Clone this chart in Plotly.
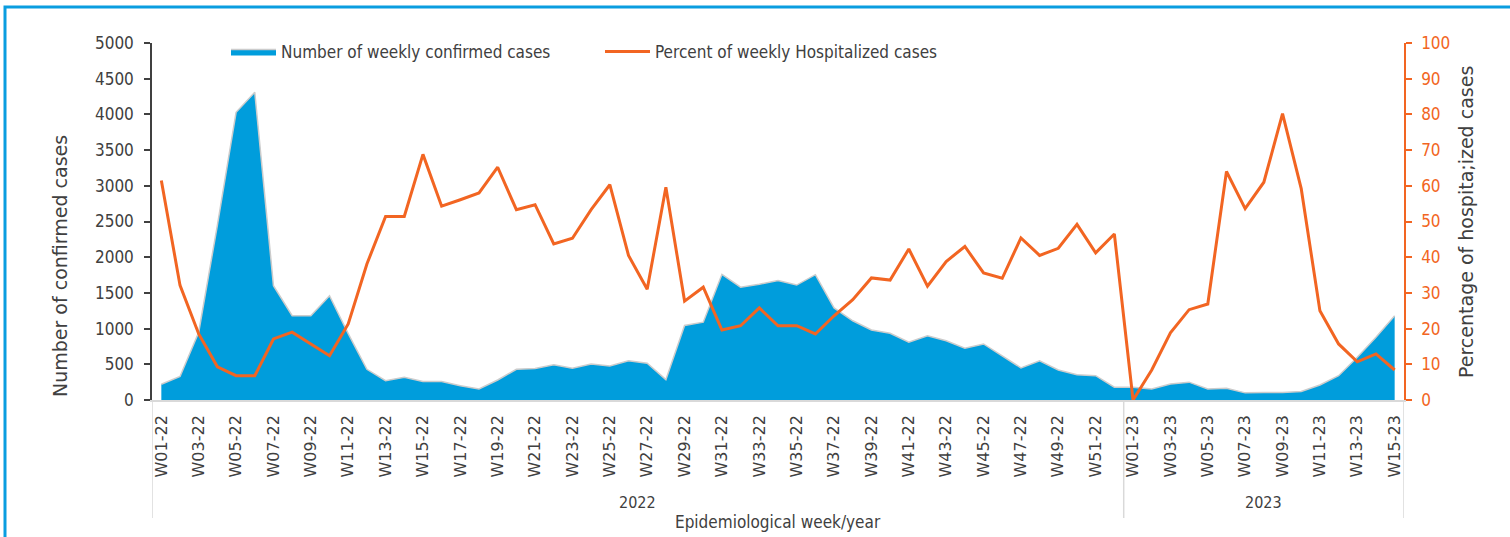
import plotly.graph_objects as go

# ---- data ----
weeks_2022 = [f"W{i:02d}-22" for i in range(1, 53)]
weeks_2023 = [f"W{i:02d}-23" for i in range(1, 16)]
years = ["2022"] * len(weeks_2022) + ["2023"] * len(weeks_2023)
weeks = weeks_2022 + weeks_2023

cases_2022 = [220, 330, 950, 2450, 4030, 4310, 1600, 1180, 1180, 1460,
              930, 430, 270, 320, 260, 260, 200, 155, 280, 430,
              440, 495, 445, 505, 475, 550, 515, 285, 1045, 1090,
              1760, 1580, 1620, 1675, 1610, 1755, 1290, 1110, 980, 935,
              810, 900, 830, 725, 785, 620, 450, 550, 420, 355,
              340, 180]
cases_2023 = [180, 155, 225, 250, 155, 165, 100, 105, 105, 120,
              210, 340, 600, 880, 1180]
pct_2022 = [61.5, 32.1, 18.5, 9.3, 6.8, 6.8, 17.1, 19.0, 15.7, 12.4,
            21.3, 38.1, 51.4, 51.4, 68.8, 54.3, 56.1, 58.0, 65.2, 53.3,
            54.7, 43.7, 45.3, 53.3, 60.3, 40.5, 31.0, 59.6, 27.7, 31.6,
            19.6, 20.8, 25.8, 20.8, 20.8, 18.5, 23.6, 28.1, 34.2, 33.6,
            42.3, 31.9, 38.8, 43.0, 35.6, 34.1, 45.4, 40.5, 42.5, 49.2,
            41.2, 46.5]
pct_2023 = [0.0, 8.4, 18.8, 25.3, 26.9, 64.0, 53.6, 61.0, 80.2, 59.2,
            25.0, 15.7, 10.7, 12.9, 8.4]
cases = cases_2022 + cases_2023
pct = pct_2022 + pct_2023
tick_labels = weeks[::2]
left_ticks = list(range(0, 5001, 500))
right_ticks = list(range(0, 101, 10))

BLUE = "#009ddc"
ORANGE = "#f26522"
TXT = "#404040"
NARROW = "DejaVu Sans Condensed, Liberation Sans Narrow, sans-serif"
WIDE = "DejaVu Sans, Verdana, sans-serif"

W, H = 1510, 537
L, R, T, B = 152, 106, 43, 137
pw, ph = W - L - R, H - T - B

def px_x(x):
    return (x - L) / pw

def px_y(y):
    return (H - B - y) / ph

fig = go.Figure()
fig.add_trace(go.Scatter(
    x=weeks, y=cases, name="Number of weekly confirmed cases",
    mode="lines", fill="tozeroy", fillcolor=BLUE,
    line=dict(color="#cccccc", width=1.5), yaxis="y"))
fig.add_trace(go.Scatter(
    x=weeks, y=pct, name="Percent of weekly Hospitalized cases",
    mode="lines", line=dict(color=ORANGE, width=3), yaxis="y2"))

# year group separators and labels
shapes = []
annotations = []
bounds = [-0.5]
year_names = []
for i, yv in enumerate(years):
    if i == 0 or yv != years[i - 1]:
        year_names.append(yv)
        if i > 0:
            bounds.append(i - 0.5)
bounds.append(len(years) - 0.5)
sep_y = px_y(518)
for b in bounds:
    shapes.append(dict(type="line", xref="x", yref="paper", x0=b, x1=b,
                       y0=0, y1=sep_y, line=dict(color="#d9d9d9", width=1.5)))
for k, yn in enumerate(year_names):
    annotations.append(dict(x=(bounds[k] + bounds[k + 1]) / 2, y=px_y(503),
                            xref="x", yref="paper", text=yn, showarrow=False,
                            xanchor="center", yanchor="middle",
                            font=dict(family=NARROW, size=16, color=TXT)))

# outer blue frame
shapes.append(dict(type="rect", xref="paper", yref="paper",
                   x0=px_x(5), x1=px_x(1540), y0=px_y(560), y1=px_y(7),
                   line=dict(color="#0a9de0", width=3), layer="below"))

annotations += [
    dict(x=px_x(60), y=px_y(266), xref="paper", yref="paper",
         text="Number of confirmed cases", textangle=-90, showarrow=False,
         xanchor="center", yanchor="middle",
         font=dict(family=WIDE, size=19, color=TXT)),
    dict(x=px_x(1466), y=px_y(222), xref="paper", yref="paper",
         text="Percentage of hospita;ized cases", textangle=-90, showarrow=False,
         xanchor="center", yanchor="middle",
         font=dict(family=WIDE, size=19, color=TXT)),
    dict(x=0.5, y=px_y(522), xref="paper", yref="paper",
         text="Epidemiological week/year", showarrow=False,
         xanchor="center", yanchor="middle",
         font=dict(family=NARROW, size=17, color=TXT)),
]

fig.update_layout(
    width=W, height=H,
    margin=dict(l=L, r=R, t=T, b=B, pad=0),
    paper_bgcolor="white", plot_bgcolor="white",
    showlegend=True,
    legend=dict(orientation="h", x=px_x(226), y=px_y(52), xanchor="left",
                yanchor="middle", font=dict(family=NARROW, size=17, color=TXT),
                bgcolor="rgba(0,0,0,0)", itemwidth=45, tracegroupgap=0,
                entrywidth=314),
    xaxis=dict(type="category", range=[-0.5, len(weeks) - 0.5],
               tickmode="array", tickvals=tick_labels, ticktext=tick_labels,
               tickangle=-90, tickfont=dict(family=WIDE, size=16, color=TXT),
               showline=True, linecolor="#d9d9d9", linewidth=1.5,
               ticks="outside", ticklen=7, tickcolor="rgba(0,0,0,0)",
               showgrid=False, zeroline=False),
    yaxis=dict(range=[0, 5000], tickmode="array", tickvals=left_ticks,
               showline=True, linecolor=TXT, linewidth=1.5,
               ticks="outside", ticklen=6, tickcolor=TXT, tickwidth=1.5,
               ticklabelstandoff=7,
               tickfont=dict(family=NARROW, size=17, color=TXT),
               showgrid=False, zeroline=False),
    yaxis2=dict(range=[0, 100], overlaying="y", side="right",
                tickmode="array", tickvals=right_ticks,
                showline=True, linecolor=ORANGE, linewidth=1.5,
                ticks="outside", ticklen=6, tickcolor=ORANGE, tickwidth=1.5,
                ticklabelstandoff=6,
                tickfont=dict(family=NARROW, size=17, color=ORANGE),
                showgrid=False, zeroline=False),
    shapes=shapes, annotations=annotations,
)

fig.write_html("out.html", config={"displayModeBar": False},
               post_script="document.body.style.margin='0';document.body.style.overflow='hidden';")
